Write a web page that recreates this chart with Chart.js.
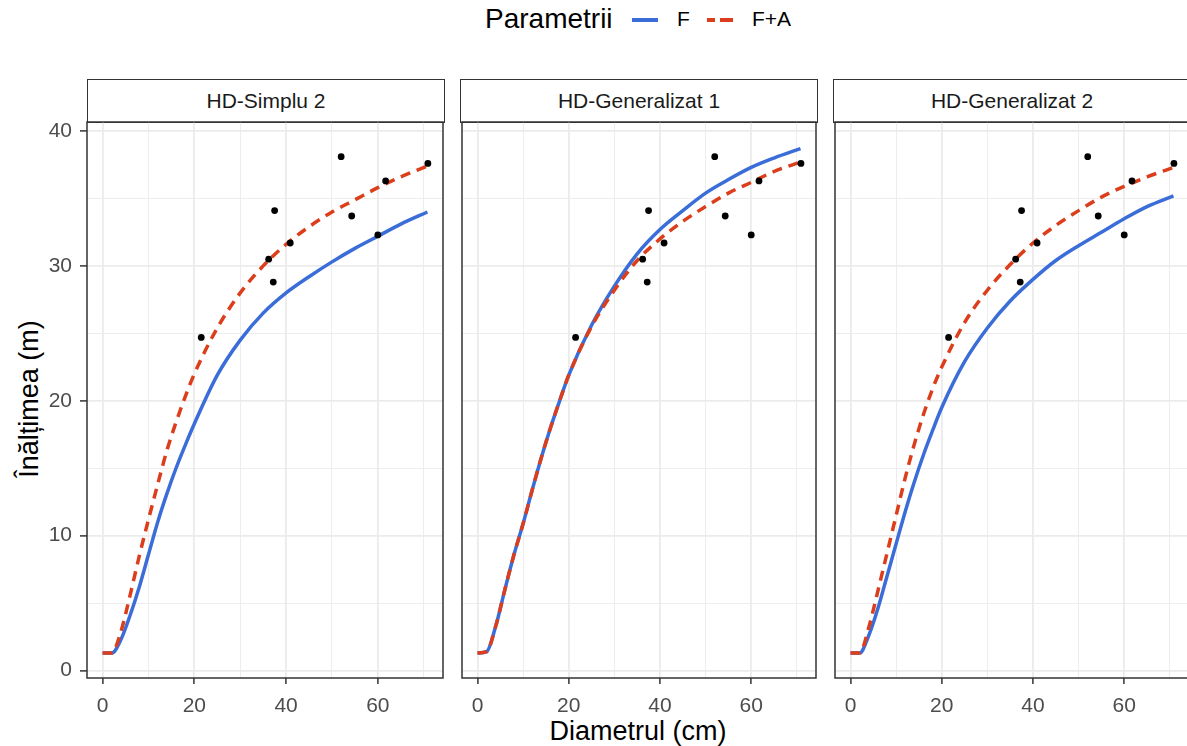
<!DOCTYPE html>
<html>
<head>
<meta charset="utf-8">
<script src="https://cdn.jsdelivr.net/npm/chart.js@4.4.0/dist/chart.umd.min.js"></script>
<style>
body { margin:0; width:1187px; height:746px; overflow:hidden; background:#fff; position:relative;
       font-family:"Liberation Sans", Arial, sans-serif; }
canvas { position:absolute; }
.strip { position:absolute; top:79px; height:44px; width:358px; border:1.5px solid #333; box-sizing:border-box;
         text-align:center; line-height:41px; font-size:21px; color:#1a1a1a; background:#fff; }
.txt { position:absolute; white-space:nowrap; color:#000; }
</style>
</head>
<body>
<div class="txt" style="left:485px; top:3px; font-size:28px;">Parametrii</div>
<div style="position:absolute; left:632px; top:18px; width:26px; height:4px; background:#3a6dd8;"></div>
<div class="txt" style="left:677px; top:7px; font-size:21px;">F</div>
<div style="position:absolute; left:707px; top:18px; width:26px; height:4px;
     background:linear-gradient(90deg,#dc3e1b 0 8px,transparent 8px 13px,#dc3e1b 13px 26px);"></div>
<div class="txt" style="left:752px; top:7px; font-size:21px;">F+A</div>

<div class="txt" style="left:29px; top:399px; font-size:27px; transform:translate(-50%,-50%) rotate(-90deg);">Înălțimea (m)</div>
<div class="txt" style="left:638px; top:731px; font-size:27px; transform:translate(-50%,-50%);">Diametrul (cm)</div>

<script>
// masuratori (diametru cm, inaltime m)
const treeD = [21.5, 36.2, 37.5, 37.2, 40.9, 52.0, 54.3, 60.0, 61.7, 70.9];
const treeH = [24.7, 30.5, 34.1, 28.8, 31.7, 38.1, 33.7, 32.3, 36.3, 37.6];

// curbele
const curveD = [0, 2, 4, 6, 8, 10, 12, 14, 16, 18, 20, 25, 30, 35, 40, 45, 50, 55, 60, 65, 70.8];
const simplu2F  = [1.3, 1.3, 2.3, 4.1, 6.2, 8.6, 11.0, 13.1, 15.0, 16.7, 18.3, 21.9, 24.5, 26.5, 28.0, 29.2, 30.3, 31.3, 32.2, 33.1, 34.0];
const simplu2FA = [1.3, 1.3, 2.9, 5.6, 8.5, 11.2, 13.8, 16.3, 18.4, 20.3, 22.0, 25.4, 28.0, 30.0, 31.6, 32.9, 34.0, 34.9, 35.8, 36.6, 37.4];
const gen1F  = [1.3, 1.4, 3.3, 6.0, 8.6, 10.9, 13.4, 15.8, 18.0, 20.0, 21.9, 25.6, 28.5, 30.9, 32.7, 34.1, 35.4, 36.4, 37.3, 38.0, 38.7];
const gen1FA = [1.3, 1.4, 3.3, 6.0, 8.6, 10.9, 13.4, 15.8, 18.0, 20.0, 21.9, 25.5, 28.2, 30.4, 32.0, 33.3, 34.4, 35.4, 36.2, 37.0, 37.7];
const gen2F  = [1.3, 1.3, 2.6, 4.6, 7.0, 9.4, 11.8, 14.0, 16.0, 17.8, 19.5, 22.9, 25.4, 27.4, 29.0, 30.4, 31.5, 32.5, 33.5, 34.4, 35.2];
const gen2FA = [1.3, 1.3, 3.2, 5.9, 8.7, 11.5, 14.3, 16.8, 19.0, 20.9, 22.5, 25.8, 28.2, 30.1, 31.7, 33.0, 34.1, 35.1, 35.9, 36.6, 37.3];

const panelTitles = ["HD-Simplu 2", "HD-Generalizat 1", "HD-Generalizat 2"];
const panelF  = [simplu2F, gen1F, gen2F];
const panelFA = [simplu2FA, gen1FA, gen2FA];
const panelLeft = [87, 460, 833];

const xTickLabels = [0, 20, 40, 60];
const yTickLabels = [0, 10, 20, 30, 40];

Chart.defaults.font.family = "'Liberation Sans', Arial, sans-serif";

const panelBorder = {
    id: "panelBorder",
    afterDraw(chart) {
        const a = chart.chartArea, c = chart.ctx;
        c.save();
        c.strokeStyle = "#333333";
        c.lineWidth = 1.5;
        c.strokeRect(a.left, a.top, a.right - a.left, a.bottom - a.top);
        c.restore();
    }
};

function pairs(xs, ys){
    return xs.map(function(x, i){ return {x: x, y: ys[i]}; });
}

function makePanel(i){
    const showY = i === 0;
    const yw = showY ? 87 : 0;
    const padTop = 24;
    const xh = 44;

    const strip = document.createElement("div");
    strip.className = "strip";
    strip.style.left = panelLeft[i] + "px";
    strip.innerText = panelTitles[i];
    document.body.appendChild(strip);

    const canvas = document.createElement("canvas");
    canvas.width = yw + 2 + 357 + 3;
    canvas.height = padTop + 556 + xh;
    canvas.style.left = (panelLeft[i] - yw - 2) + "px";
    canvas.style.top = (122 - padTop) + "px";
    document.body.appendChild(canvas);

    new Chart(canvas, {
        type: "scatter",
        data: {
            datasets: [
                {
                    data: pairs(treeD, treeH),
                    pointRadius: 3.4,
                    backgroundColor: "#000",
                    borderWidth: 0,
                    order: 0
                },
                {
                    data: pairs(curveD, panelFA[i]),
                    showLine: true,
                    pointRadius: 0,
                    borderColor: "#dc3e1b",
                    borderWidth: 3.5,
                    borderDash: [10, 7],
                    cubicInterpolationMode: "monotone",
                    order: 1
                },
                {
                    data: pairs(curveD, panelF[i]),
                    showLine: true,
                    pointRadius: 0,
                    borderColor: "#3a6dd8",
                    borderWidth: 3.5,
                    cubicInterpolationMode: "monotone",
                    order: 2
                }
            ]
        },
        options: {
            responsive: false,
            animation: false,
            layout: { padding: { top: padTop, left: 2, right: 3, bottom: 0 } },
            plugins: { legend: { display: false }, tooltip: { enabled: false } },
            scales: {
                x: {
                    min: -3.4, max: 74.2,
                    afterFit: function(s){ s.height = xh; },
                    border: { display: false },
                    grid: {
                        color: "#ebebeb",
                        lineWidth: function(ctx){ return ctx.tick && ctx.tick.value % 20 === 0 ? 1.8 : 0.9; },
                        tickLength: 6,
                        tickWidth: 1.5,
                        tickColor: function(ctx){ return ctx.tick && ctx.tick.value % 20 === 0 ? "#333333" : "rgba(0,0,0,0)"; }
                    },
                    ticks: {
                        stepSize: 10,
                        includeBounds: false,
                        autoSkip: false,
                        maxRotation: 0,
                        padding: 10,
                        color: "#4d4d4d",
                        font: { size: 21 },
                        callback: function(v){ return xTickLabels.includes(v) ? String(v) : ""; }
                    }
                },
                y: {
                    min: -0.55, max: 40.67,
                    afterFit: function(s){ s.width = yw; },
                    border: { display: false },
                    grid: {
                        color: "#ebebeb",
                        lineWidth: function(ctx){ return ctx.tick && ctx.tick.value % 10 === 0 ? 1.8 : 0.9; },
                        drawTicks: showY,
                        tickLength: 7,
                        tickWidth: 1.5,
                        tickColor: function(ctx){ return ctx.tick && ctx.tick.value % 10 === 0 ? "#333333" : "rgba(0,0,0,0)"; }
                    },
                    ticks: {
                        display: showY,
                        stepSize: 5,
                        includeBounds: false,
                        autoSkip: false,
                        padding: 8,
                        color: "#4d4d4d",
                        font: { size: 21 },
                        callback: function(v){ return yTickLabels.includes(v) ? String(v) : ""; }
                    }
                }
            }
        },
        plugins: [panelBorder]
    });
}

for (let i = 0; i < 3; i++) makePanel(i);
</script>
</body>
</html>
